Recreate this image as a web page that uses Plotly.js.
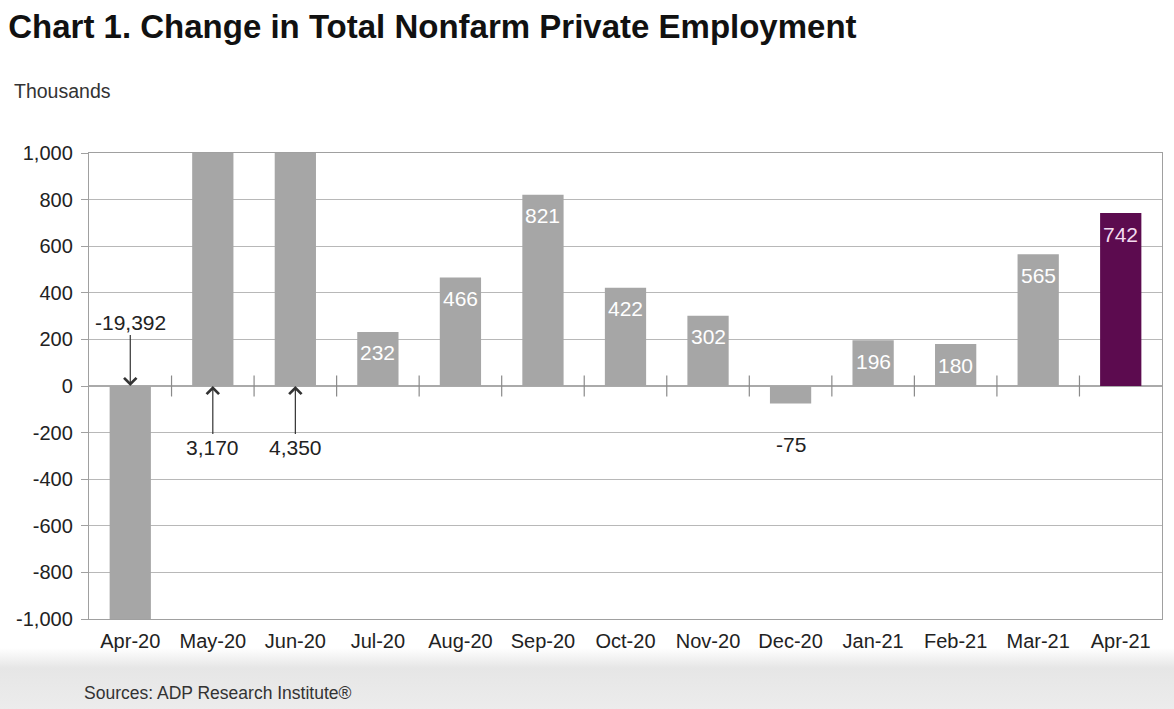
<!DOCTYPE html>
<html>
<head>
<meta charset="utf-8">
<script src="https://cdn.plot.ly/plotly-3.0.1.min.js"></script>
<style>
  html, body { margin: 0; padding: 0; }
  #wrap { width: 1174px; height: 709px;
    background: linear-gradient(to bottom, #ffffff 0px, #ffffff 648px, #e6e6e6 668px, #ececec 709px); }
</style>
</head>
<body>
<div id="wrap"><div id="chart" style="width:1174px;height:709px;"></div></div>
<script>
const categories = ['Apr-20','May-20','Jun-20','Jul-20','Aug-20','Sep-20','Oct-20','Nov-20','Dec-20','Jan-21','Feb-21','Mar-21','Apr-21'];
const changeThousands = [-19392, 3170, 4350, 232, 466, 821, 422, 302, -75, 196, 180, 565, 742];
const yTickVals = [-1000,-800,-600,-400,-200,0,200,400,600,800,1000];
const yTickText = ['-1,000','-800','-600','-400','-200','0','200','400','600','800','1,000'];
const yRange = [-1000, 1000];

const GRAY = '#a6a6a6';
const PURPLE = '#5c0b4f';
const FONT = 'Liberation Sans, Arial, sans-serif';
const fmt = v => (v < 0 ? '-' : '') + Math.abs(v).toLocaleString('en-US');

const barColors = changeThousands.map((v, i) => i === changeThousands.length - 1 ? PURPLE : GRAY);

const bars = {
  type: 'bar', x: categories, y: changeThousands,
  marker: { color: barColors },
  cliponaxis: true, hoverinfo: 'x+y', showlegend: false
};

const boundaries = categories.slice(1).map((_, i) => i + 0.5);
const zeroTicks = {
  type: 'scatter', mode: 'markers', xaxis: 'x2', yaxis: 'y',
  x: boundaries, y: boundaries.map(() => 0),
  marker: { symbol: 'line-ns-open', size: 15, color: '#8a8a8a', line: { color: '#8a8a8a', width: 1.2 } },
  hoverinfo: 'skip', showlegend: false
};

const annotations = [];
changeThousands.forEach((v, i) => {
  const last = i === changeThousands.length - 1;
  if (v < yRange[0]) {
    annotations.push({ x: categories[i], y: 0, xref: 'x', yref: 'y', text: fmt(v),
      showarrow: true, arrowhead: 4, arrowsize: 2, arrowwidth: 1.2, arrowcolor: '#333',
      ax: 0, ay: -64, standoff: 0, font: { family: FONT, size: 21, color: '#222' } });
  } else if (v > yRange[1]) {
    annotations.push({ x: categories[i], y: 0, xref: 'x', yref: 'y', text: fmt(v),
      showarrow: true, arrowhead: 4, arrowsize: 2, arrowwidth: 1.2, arrowcolor: '#333',
      ax: 0, ay: 61, standoff: 0, font: { family: FONT, size: 21, color: '#222' } });
  } else if (v < 0) {
    annotations.push({ x: categories[i], y: v, xref: 'x', yref: 'y', text: fmt(v),
      showarrow: false, yanchor: 'middle', yshift: -41, font: { family: FONT, size: 21, color: '#222' } });
  } else {
    annotations.push({ x: categories[i], y: v, xref: 'x', yref: 'y', text: fmt(v),
      showarrow: false, yanchor: 'middle', yshift: -21,
      font: { family: FONT, size: 21, color: last ? '#f3dcef' : '#ffffff' } });
  }
});
annotations.push({ xref: 'paper', yref: 'paper', x: -0.072, y: 1.133, xanchor: 'left', yanchor: 'middle',
  text: 'Thousands', showarrow: false, font: { family: FONT, size: 19.5, color: '#333' } });
annotations.push({ xref: 'paper', yref: 'paper', x: -0.0065, y: -0.158, xanchor: 'left', yanchor: 'middle',
  text: 'Sources: ADP Research Institute®', showarrow: false, font: { family: FONT, size: 17.5, color: '#333' } });

const layout = {
  width: 1174, height: 709,
  margin: { l: 89, r: 12, t: 153, b: 90 },
  paper_bgcolor: 'rgba(0,0,0,0)', plot_bgcolor: '#ffffff',
  title: { text: '<b>Chart 1. Change in Total Nonfarm Private Employment</b>', x: 0.007, xanchor: 'left',
    y: 0.962, yanchor: 'middle', font: { family: FONT, size: 33, color: '#111' } },
  bargap: 0.5,
  xaxis: { type: 'category', categoryorder: 'array', categoryarray: categories, range: [-0.5, categories.length - 0.5],
    showline: true, mirror: true, linecolor: '#a0a0a0', linewidth: 1.2, showgrid: false, ticks: '',
    tickfont: { family: FONT, size: 20, color: '#222' }, ticklabelstandoff: 4, fixedrange: true },
  xaxis2: { overlaying: 'x', range: [-0.5, categories.length - 0.5], visible: false, fixedrange: true },
  yaxis: { range: yRange, tickvals: yTickVals, ticktext: yTickText, showgrid: true, gridcolor: '#b8b8b8', gridwidth: 1.2,
    zeroline: true, zerolinecolor: '#aaaaaa', zerolinewidth: 1.2,
    showline: true, mirror: true, linecolor: '#a0a0a0', linewidth: 1.2,
    ticks: 'outside', ticklen: 7, tickcolor: '#a0a0a0', ticklabelstandoff: 4,
    tickfont: { family: FONT, size: 20, color: '#222' }, fixedrange: true },
  annotations: annotations
};

Plotly.newPlot('chart', [bars, zeroTicks], layout, { displayModeBar: false, staticPlot: true });
</script>
</body>
</html>
